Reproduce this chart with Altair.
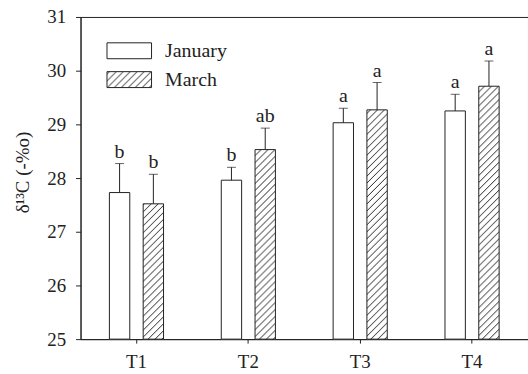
import altair as alt
import pandas as pd
from altair.utils.html import TEMPLATES

# Mean delta-13C per treatment and sampling month, with upper SE bars
treatments = ["T1", "T2", "T3", "T4"]
months = ["January", "March"]
jan_mean = [27.73, 27.96, 29.03, 29.25]
jan_err = [0.54, 0.24, 0.27, 0.31]
mar_mean = [27.52, 28.53, 29.27, 29.71]
mar_err = [0.55, 0.40, 0.51, 0.47]
jan_letters = ["b", "b", "a", "a"]
mar_letters = ["b", "ab", "a", "a"]
y_ticks = [25, 26, 27, 28, 29, 30, 31]

rows = []
for i, t in enumerate(treatments):
    rows.append(dict(treatment=t, month="January", mean=jan_mean[i],
                     err=jan_err[i], group=jan_letters[i]))
    rows.append(dict(treatment=t, month="March", mean=mar_mean[i],
                     err=mar_err[i], group=mar_letters[i]))
df = pd.DataFrame(rows)
df["upper"] = df["mean"] + df["err"]

INK = "#222222"
SERIF = "Liberation Serif"

x = alt.X(
    "treatment:N", sort=treatments,
    scale=alt.Scale(paddingInner=0.516, paddingOuter=0.258),
    axis=alt.Axis(title=None, labelAngle=0, labelFont=SERIF, labelFontSize=19,
                  labelColor=INK, labelPadding=10, tickSize=4, tickColor=INK,
                  domainColor=INK),
)
x_off = alt.XOffset("month:N", sort=months,
                    scale=alt.Scale(paddingInner=0.397, paddingOuter=0))
y_scale = alt.Scale(domain=[25, 31], nice=False, zero=False)

base = alt.Chart(df).encode(x=x, xOffset=x_off)

bars = base.mark_bar(stroke=INK, strokeWidth=1).encode(
    y=alt.Y(
        "mean:Q", scale=y_scale,
        axis=alt.Axis(values=y_ticks, format="d", title="δ¹³C (-%o)", grid=False,
                      labelFont=SERIF, labelFontSize=19, labelColor=INK,
                      labelPadding=10, tickSize=5, tickColor=INK, domainColor=INK,
                      titleFont=SERIF, titleFontSize=19, titleFontWeight="normal",
                      titleColor=INK, titleAngle=270, titleX=-58, titleY=156,
                      titleAlign="center", titleBaseline="middle"),
    ),
    y2=alt.datum(25),
    fill=alt.Fill(
        "month:N", sort=months,
        scale=alt.Scale(domain=months, range=["white", "url(#hatch)"]),
        legend=alt.Legend(
            title=None, orient="none", legendX=39, legendY=24, padding=0,
            symbolType="M-2.8,-1H2.8V1H-2.8Z", symbolSize=256,
            symbolStrokeColor=INK, symbolStrokeWidth=1,
            labelFont=SERIF, labelFontSize=20, labelColor=INK,
            labelOffset=26, rowPadding=9,
        ),
    ),
)

stems = base.mark_rule(color=INK, strokeWidth=1).encode(
    y="mean:Q", y2="upper:Q")
caps = base.mark_tick(color=INK, orient="horizontal", size=9, thickness=1).encode(
    y="upper:Q")
letters = base.mark_text(font=SERIF, fontSize=20, color=INK,
                         baseline="alphabetic", dy=-6).encode(
    y="upper:Q", text="group:N")

chart = (
    alt.layer(bars, stems, caps, letters)
    .properties(width=450, height=324,
                padding={"left": 81, "top": 16, "right": 0, "bottom": 34},
                autosize=alt.AutoSizeParams(type="none"))
    .configure_view(stroke=INK, strokeWidth=1)
)

# Diagonal hatch fill used for the March bars
HATCH_DEFS = (
    '<svg width="0" height="0" style="position:absolute">'
    '<defs><pattern id="hatch" patternUnits="userSpaceOnUse" width="7" height="7">'
    '<rect width="7" height="7" fill="white"/>'
    '<path d="M-1,1 l2,-2 M0,7 l7,-7 M6,8 l2,-2" stroke="#222" stroke-width="1"/>'
    '</pattern></defs></svg>'
)


class HatchedPage:
    def render(self, **context):
        page = TEMPLATES["standard"].render(**context)
        return page.replace('<div id="', HATCH_DEFS + '<div id="', 1)


chart.save("out.html", embed_options={"renderer": "svg", "actions": False},
           template=HatchedPage())
